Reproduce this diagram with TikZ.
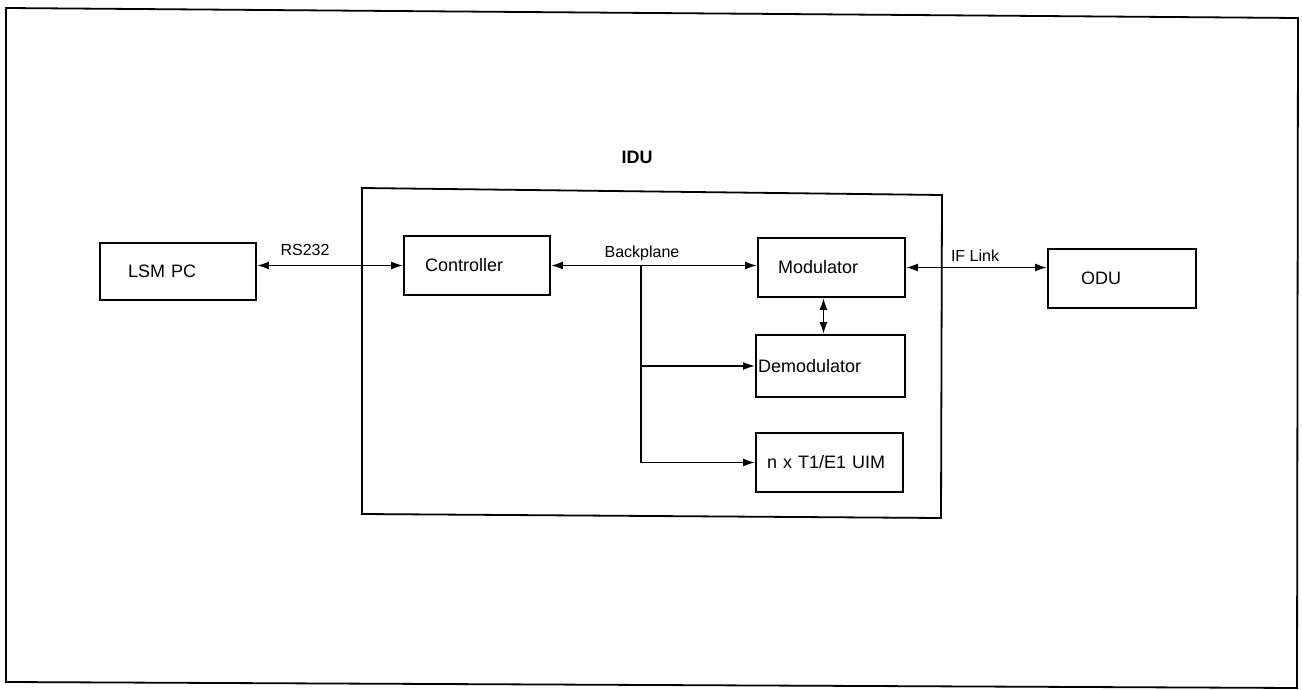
\documentclass[tikz,border=0pt]{standalone}
\usepackage{fontspec}
\setmainfont{Liberation Sans}
\usetikzlibrary{arrows.meta}
\begin{document}
\begin{tikzpicture}[x=1pt,y=-1pt, line width=1.8pt,
  box/.style n args={3}{draw, rectangle, text width=#1, inner xsep=#2, minimum height=#3, inner ysep=0pt, align=left, font=\fontsize{18}{21}\selectfont},
  lab/.style={font=\fontsize{16}{19}\selectfont},
  tip/.tip={Latex[length=12pt,width=8pt]},
  arr/.style={-tip},
  darr/.style={tip-tip}]
\useasboundingbox (0,0) rectangle (1302,690);
% outer frame
\draw (6,8) -- (1298,18) -- (1297,688) -- (6,682) -- cycle;
% IDU frame
\draw (362,188) -- (942,195) -- (941,518) -- (362,514) -- cycle;
\node[font=\bfseries\fontsize{18}{21}\selectfont] (idu) at (637,157) {IDU};
% boxes
\node[box={100pt}{28pt}{57pt}] (lsm) at (178,271.5) {LSM PC};
\node[box={104pt}{21pt}{59pt}] (ctrl) at (477,265.5) {Controller};
\node[box={107pt}{20pt}{59pt}] (mod) at (831.5,267.5) {Modulator};
\node[box={145pt}{2pt}{62pt}] (demod) at (830.5,366) {Demodulator};
\node[box={125pt}{11pt}{59pt}] (uim) at (829.5,462.5) {n x T1/E1 UIM};
\node[box={82pt}{33pt}{59pt}] (odu) at (1122,278.5) {ODU};
% connectors
\draw[darr] (lsm.east |- ctrl.west) -- (ctrl.west);
\draw[darr] (ctrl.east) -- (ctrl.east -| mod.west);
\coordinate (bp) at (641,265.5);
\draw[arr] (bp) |- (uim.west);
\draw[arr] (bp |- demod.west) -- (demod.west);
\draw[darr] ([xshift=-8pt]mod.south) -- ([xshift=-8pt]mod.south |- demod.north);
\draw[darr] (mod.east) -- (mod.east -| odu.west);
% labels
\node[lab] (rs) at (305,250) {RS232};
\node[lab] (bpl) at (642,253) {Backplane};
\node[lab] (ifl) at (975,256) {IF Link};
\end{tikzpicture}
\end{document}
